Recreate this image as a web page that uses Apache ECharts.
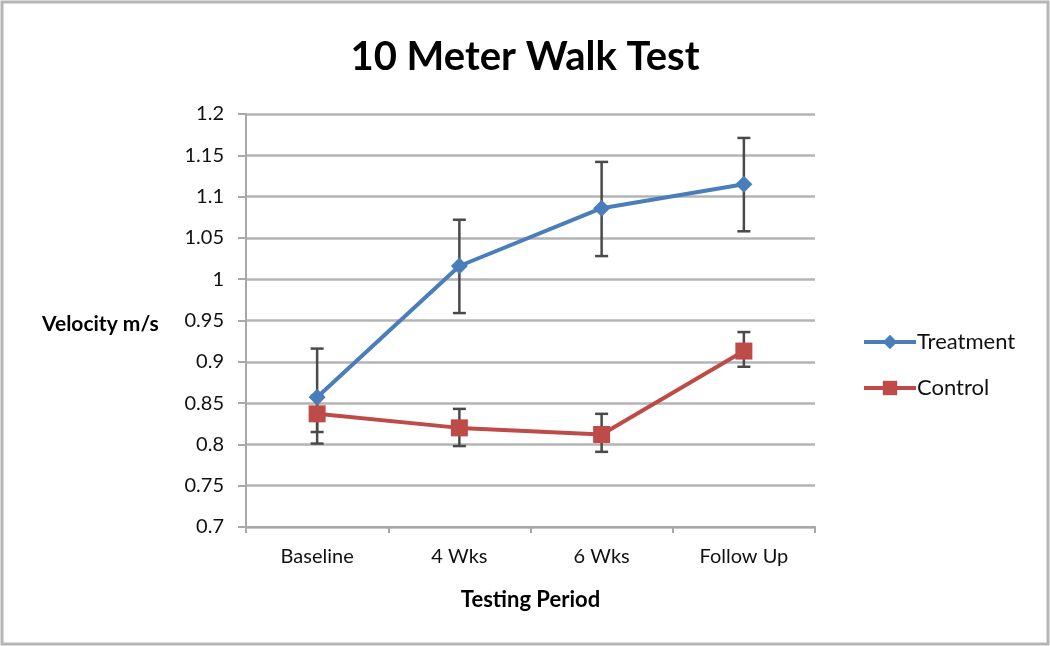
<!DOCTYPE html>
<html>
<head>
<meta charset="utf-8">
<script src="https://cdn.jsdelivr.net/npm/echarts@6/dist/echarts.min.js"></script>
<style>html,body{margin:0;padding:0;background:#fff;}#c{width:1050px;height:646px;}</style>
</head>
<body>
<div id="c"></div>
<script>
const categories = ['Baseline', '4 Wks', '6 Wks', 'Follow Up'];
const treatment = [0.857, 1.016, 1.086, 1.115];
const treatmentLow = [0.801, 0.959, 1.028, 1.058];
const treatmentHigh = [0.916, 1.072, 1.142, 1.171];
const control = [0.837, 0.820, 0.812, 0.913];
const controlLow = [0.815, 0.798, 0.791, 0.894];
const controlHigh = [0.859, 0.843, 0.837, 0.936];

const chart = echarts.init(document.getElementById('c'));
const font = 'Lato, "Open Sans", sans-serif';

function errSeries(low, high) {
  return {
    type: 'custom',
    z: 1,
    silent: true,
    data: categories.map((c, i) => [i, low[i], high[i]]),
    renderItem: function (params, api) {
      const lo = api.coord([api.value(0), api.value(1)]);
      const hi = api.coord([api.value(0), api.value(2)]);
      const w = 6.5;
      const st = { stroke: '#4a4a4a', lineWidth: 2.5 };
      return {
        type: 'group',
        children: [
          { type: 'line', shape: { x1: lo[0], y1: lo[1], x2: hi[0], y2: hi[1] }, style: st },
          { type: 'line', shape: { x1: lo[0] - w, y1: lo[1], x2: lo[0] + w, y2: lo[1] }, style: st },
          { type: 'line', shape: { x1: hi[0] - w, y1: hi[1], x2: hi[0] + w, y2: hi[1] }, style: st }
        ]
      };
    }
  };
}

chart.setOption({
  animation: false,
  backgroundColor: '#fff',
  title: {
    text: '10 Meter Walk Test',
    left: 'center',
    top: 32,
    textStyle: { fontFamily: font, fontSize: 40, fontWeight: 'bold', color: '#000' }
  },
  graphic: [{
    type: 'rect',
    shape: { x: 2, y: 2, width: 1046, height: 642 },
    style: { fill: 'none', stroke: '#b5b5b5', lineWidth: 3 }
  }, {
    type: 'text',
    left: 42,
    top: 314,
    style: { text: 'Velocity m/s', font: 'bold 21px ' + font, fill: '#000' }
  }],
  legend: {
    orient: 'vertical',
    left: 857,
    top: 326,
    itemGap: 24,
    itemWidth: 52,
    itemHeight: 18,
    lineStyle: { width: 4 },
    textStyle: { fontFamily: font, fontSize: 22, color: '#111', padding: [0, 0, 0, -4] },
    data: ['Treatment', 'Control']
  },
  grid: { left: 246, right: 235, top: 114, bottom: 119 },
  xAxis: {
    type: 'category',
    data: categories,
    boundaryGap: true,
    name: 'Testing Period',
    nameLocation: 'middle',
    nameGap: 62,
    nameTextStyle: { fontFamily: font, fontSize: 22, fontWeight: 'bold', color: '#000' },
    axisLine: { lineStyle: { color: '#a8a8a8', width: 2 } },
    axisTick: { show: true, length: 6, lineStyle: { color: '#a8a8a8', width: 2 } },
    axisLabel: { fontFamily: font, fontSize: 20, color: '#111', margin: 20 }
  },
  yAxis: {
    type: 'value',
    min: 0.7,
    max: 1.2,
    interval: 0.05,
    axisLine: { show: true, lineStyle: { color: '#a8a8a8', width: 2 } },
    axisTick: { show: true, length: 8, lineStyle: { color: '#a8a8a8', width: 2 } },
    splitLine: { lineStyle: { color: '#b4b4b4', width: 2.5 } },
    axisLabel: {
      fontFamily: font, fontSize: 20, color: '#111', margin: 22,
      formatter: v => String(+v.toFixed(2))
    }
  },
  series: [
    errSeries(treatmentLow, treatmentHigh),
    errSeries(controlLow, controlHigh),
    {
      name: 'Treatment',
      type: 'line',
      z: 3,
      data: treatment,
      symbol: 'diamond',
      symbolSize: 17,
      lineStyle: { color: '#4a7ebb', width: 4 },
      itemStyle: { color: '#4a7ebb' }
    },
    {
      name: 'Control',
      type: 'line',
      z: 3,
      data: control,
      symbol: 'rect',
      symbolSize: 17,
      lineStyle: { color: '#be4b48', width: 4 },
      itemStyle: { color: '#be4b48' }
    }
  ]
});
</script>
</body>
</html>
